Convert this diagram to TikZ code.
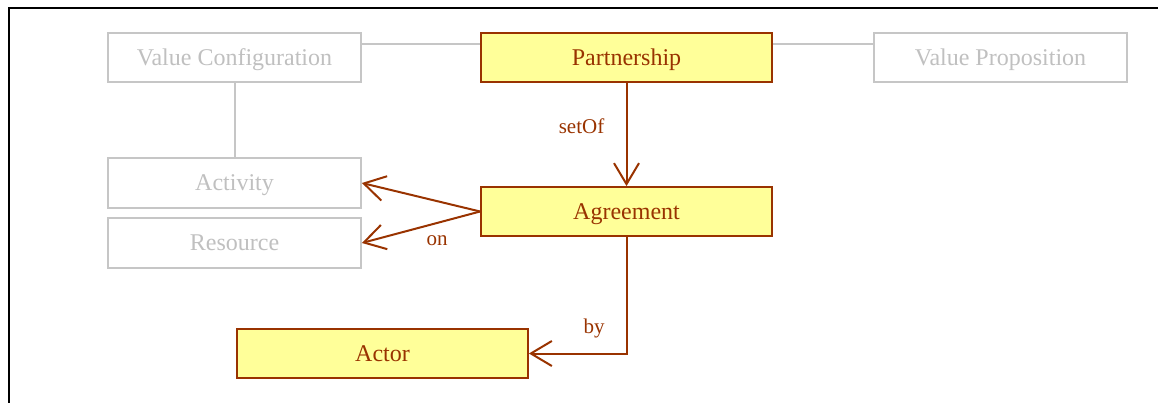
\documentclass[tikz,border=0pt]{standalone}
\usepackage{fontspec}
\setmainfont{Liberation Serif}
\usetikzlibrary{arrows.meta}
\definecolor{brownline}{HTML}{993300}
\definecolor{paleyellow}{HTML}{FFFF99}
\definecolor{greyline}{HTML}{C6C6C6}
\definecolor{greytext}{HTML}{C0C0C0}
\tikzset{
  boxtext/.style={inner sep=0pt, text height=21pt, text depth=5pt,
    font=\fontsize{24}{28}\selectfont},
  conceptbox/.style={boxtext, draw=brownline, fill=paleyellow, line width=1.8pt, text=brownline,
    minimum height=49pt},
  contextbox/.style={boxtext, draw=greyline, fill=white, line width=1.8pt, text=greytext,
    minimum width=253pt, minimum height=49pt},
  greylink/.style={draw=greyline, line width=2pt},
  rel/.style={draw=brownline, line width=2pt},
  relarrow/.style={rel, -{Straight Barb[length=21pt,width=25pt,line width=2pt]}},
  rellabel/.style={text=brownline, inner sep=0pt, font=\fontsize{21}{25}\selectfont}
}
\begin{document}
\begin{tikzpicture}[x=1pt,y=-1pt]
\useasboundingbox (0,0) rectangle (1158,403);
% outer frame (top and left edges)
\draw[black, line width=2pt] (9,403) -- (9,8.5) -- (1158,8.5);

% context concepts
\node[contextbox] (vc) at (234.5,57.5) {Value Configuration};
\node[contextbox] (vp) at (1000.5,57.5) {Value Proposition};
\node[contextbox, minimum height=50pt] (act) at (234.5,183) {Activity};
\node[contextbox, minimum height=50pt] (res) at (234.5,243) {Resource};

% main concepts
\node[conceptbox, minimum width=291pt] (pa) at (626.5,57.5) {Partnership};
\node[conceptbox, minimum width=291pt] (ag) at (626.5,211.5) {Agreement};
\node[conceptbox, minimum width=291pt] (actor) at (382.5,353.5) {Actor};

% context links
\draw[greylink] ([yshift=13pt]vc.east) -- ([yshift=13pt]pa.west);
\draw[greylink] ([yshift=13pt]pa.east) -- ([yshift=13pt]vp.west);
\draw[greylink] (vc.south) -- (act.north);

% relations
\draw[relarrow] (pa.south) -- (ag.north);
\node[rellabel] (lsetof) at (581.5,126) {setOf};

\draw[relarrow] (ag.west) -- (act.east);
\draw[relarrow] (ag.west) -- (res.east);
\node[rellabel] (lon) at (437,241) {on};

\coordinate (bend) at (626.5,353.5);
\draw[relarrow] (ag.south) -- (bend) -- (actor.east);
\node[rellabel] (lby) at (594,328) {by};
\end{tikzpicture}
\end{document}
